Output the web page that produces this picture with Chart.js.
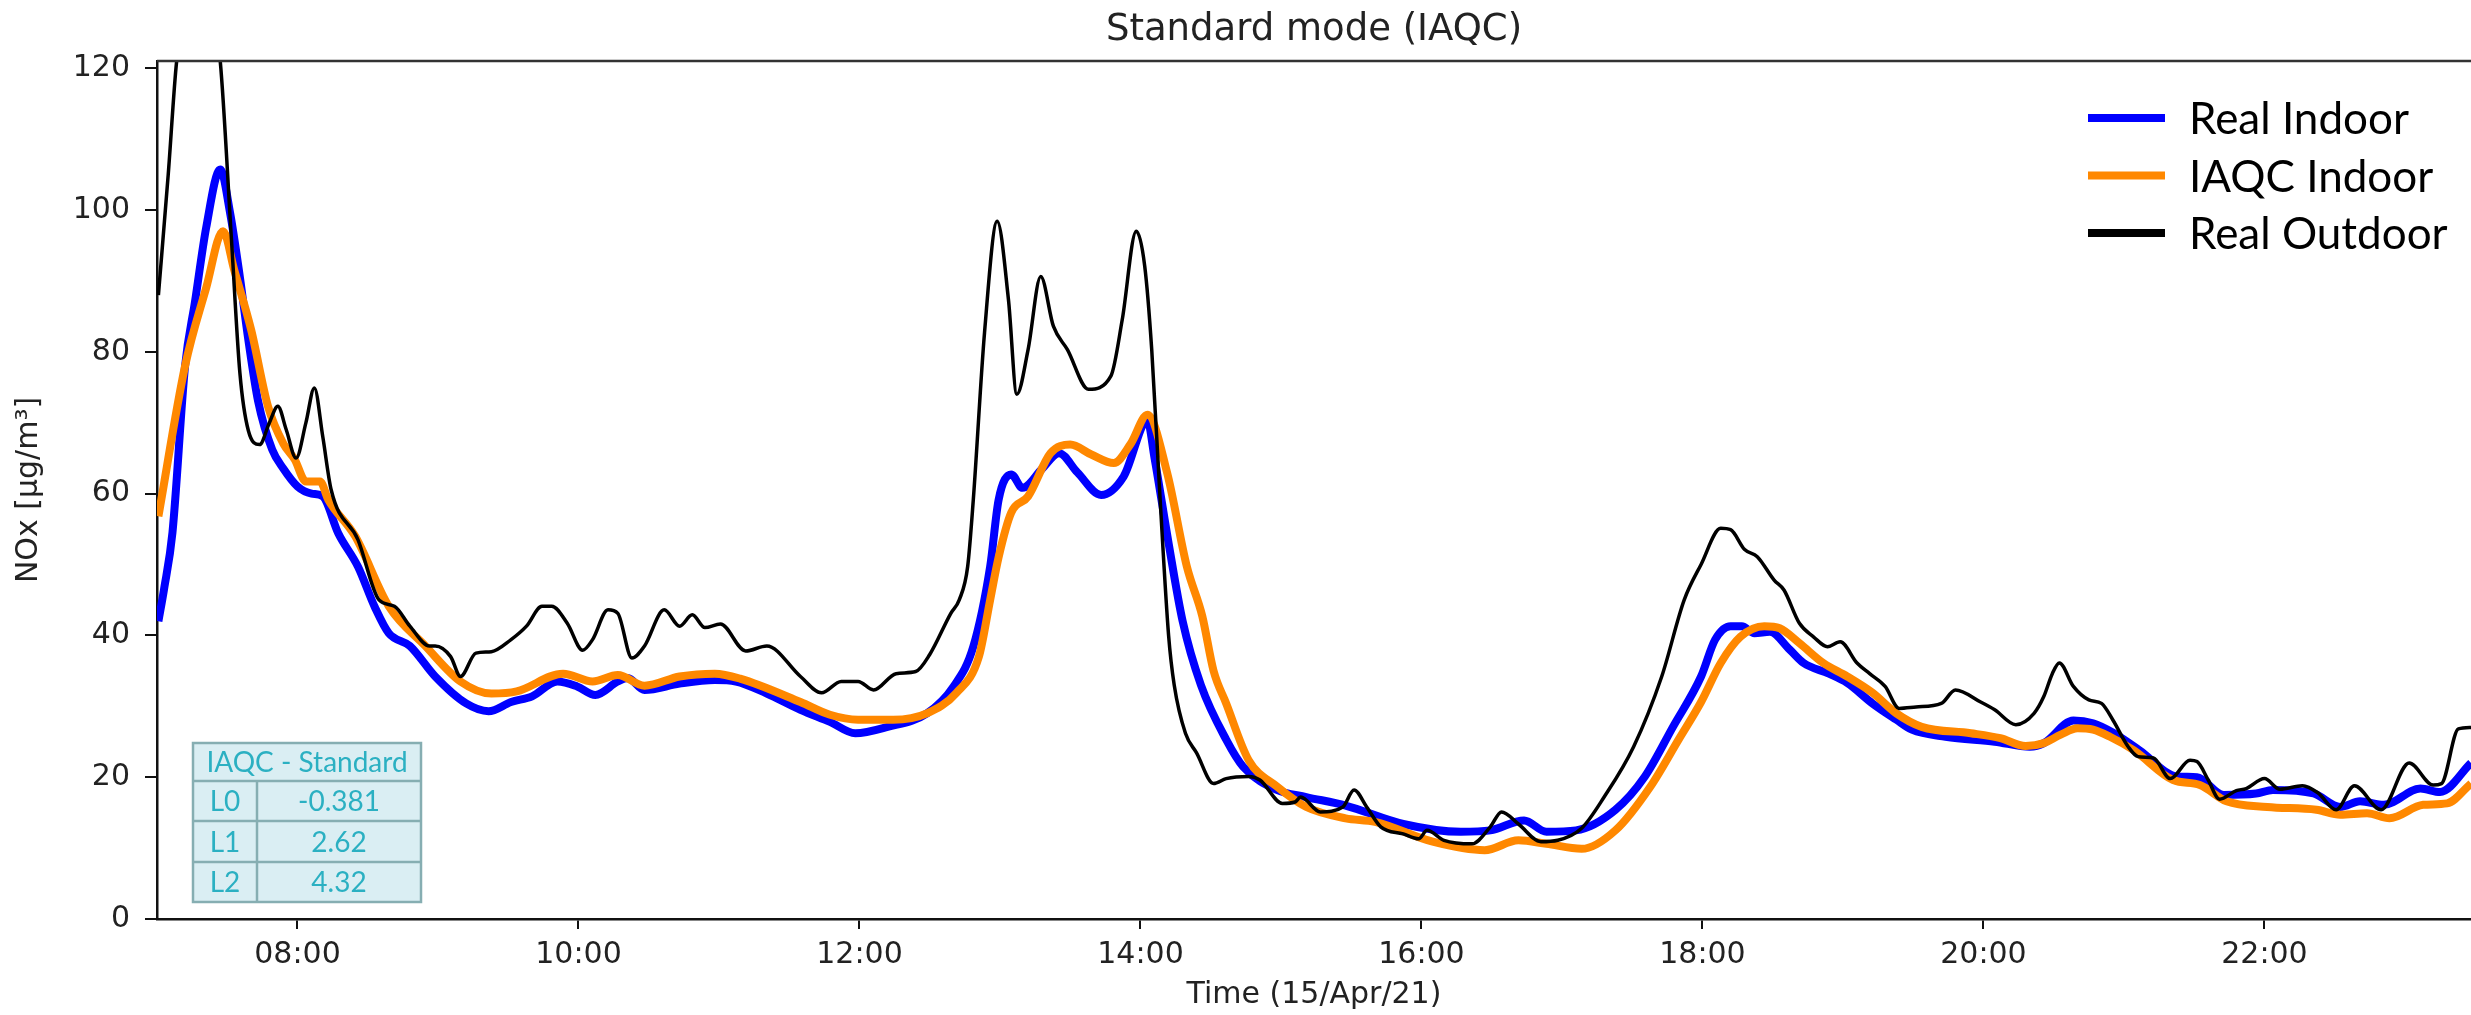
<!DOCTYPE html>
<html lang="en">
<head>
<meta charset="UTF-8">
<title>Standard mode (IAQC)</title>
<style>
  html, body { margin: 0; padding: 0; background: #fff; overflow: hidden; }
  #wrap { width: 2471px; height: 1015px; }
</style>
</head>
<body>
<div id="wrap"><canvas id="chart"></canvas></div>

<script src="https://cdn.jsdelivr.net/npm/chart.js"></script>
<script>
// [hour of day, NOx µg/m³]
const realIndoor = [
  [7.01, 42.0], [7.05, 46.5], [7.11, 54.5], [7.2, 78.0], [7.27, 87.0], [7.35, 97.5], [7.45, 105.7],
  [7.52, 99.6], [7.59, 90.5], [7.65, 81.7], [7.72, 73.0], [7.82, 66.2], [7.9, 63.5], [8.0, 61.0],
  [8.1, 60.0], [8.18, 59.6], [8.29, 54.4], [8.43, 49.7], [8.55, 44.0], [8.65, 40.3], [8.8, 38.5],
  [8.98, 34.2], [9.2, 30.4], [9.36, 29.3], [9.52, 30.6], [9.67, 31.4], [9.85, 33.5], [9.99, 32.8],
  [10.12, 31.6], [10.28, 33.5], [10.35, 34.0], [10.47, 32.3], [10.72, 33.2], [10.97, 33.7],
  [11.12, 33.5], [11.34, 31.8], [11.58, 29.5], [11.79, 27.8], [11.97, 26.2], [12.2, 27.1],
  [12.48, 29.0], [12.67, 32.8], [12.81, 38.4], [12.93, 49.7], [12.99, 59.1], [13.08, 62.7],
  [13.16, 60.8], [13.3, 63.5], [13.42, 65.7], [13.55, 63.0], [13.72, 59.8], [13.88, 62.4],
  [14.05, 70.2], [14.1, 65.0], [14.2, 53.0], [14.3, 42.0], [14.43, 33.0], [14.61, 25.3],
  [14.73, 21.5], [14.97, 18.2], [15.18, 17.2], [15.46, 16.0], [15.87, 13.4], [16.28, 12.3],
  [16.49, 12.5], [16.73, 13.9], [16.89, 12.3], [17.1, 12.5], [17.38, 15.4], [17.59, 20.1],
  [17.79, 27.1], [17.99, 34.2], [18.09, 39.4], [18.2, 41.3], [18.28, 41.3], [18.37, 40.3],
  [18.48, 40.5], [18.62, 38.0], [18.72, 36.1], [18.9, 34.6], [19.03, 33.3], [19.21, 30.4],
  [19.38, 28.1], [19.49, 26.7], [19.73, 25.7], [20.08, 25.0], [20.33, 24.3], [20.43, 24.8],
  [20.64, 28.0], [20.78, 27.6], [20.92, 26.3], [21.11, 23.8], [21.38, 20.1], [21.52, 20.0],
  [21.71, 17.5], [21.94, 17.7], [22.06, 18.2], [22.35, 17.7], [22.54, 15.8], [22.68, 16.6],
  [22.85, 16.1], [23.11, 18.4], [23.25, 17.9], [23.47, 22.0]
];

const iaqcIndoor = [
  [7.01, 56.8], [7.2, 78.0], [7.35, 89.0], [7.47, 97.0], [7.55, 91.5], [7.67, 83.1], [7.79, 72.3],
  [7.9, 67.0], [7.98, 64.8], [8.06, 61.7], [8.16, 61.7], [8.22, 59.1], [8.41, 54.0], [8.65, 44.1],
  [8.91, 38.5], [9.16, 33.5], [9.38, 31.8], [9.56, 32.1], [9.89, 34.6], [10.1, 33.5], [10.28, 34.4],
  [10.47, 32.9], [10.72, 34.2], [10.97, 34.6], [11.15, 33.9], [11.58, 30.6], [11.79, 28.8],
  [11.99, 28.1], [12.24, 28.1], [12.48, 29.0], [12.69, 31.9], [12.85, 37.0], [12.93, 45.0],
  [12.99, 51.0], [13.08, 57.3], [13.2, 59.6], [13.36, 65.7], [13.5, 66.9], [13.65, 65.5],
  [13.81, 64.3], [13.93, 67.0], [14.05, 71.1], [14.19, 62.9], [14.33, 49.7], [14.44, 42.7],
  [14.52, 35.0], [14.61, 30.4], [14.77, 22.4], [14.97, 18.7], [15.18, 15.8], [15.46, 14.2],
  [15.67, 13.7], [16.08, 10.9], [16.45, 9.7], [16.69, 11.1], [16.89, 10.6], [17.14, 9.9],
  [17.38, 12.5], [17.63, 18.7], [17.83, 25.3], [17.99, 30.6], [18.13, 36.1], [18.27, 39.8],
  [18.44, 41.3], [18.55, 41.0], [18.69, 38.9], [18.86, 36.1], [19.03, 34.2], [19.21, 31.9],
  [19.38, 29.0], [19.56, 27.1], [19.91, 26.2], [20.12, 25.5], [20.3, 24.4], [20.43, 24.8],
  [20.55, 26.0], [20.67, 26.9], [20.78, 26.7], [20.9, 25.7], [21.07, 23.8], [21.35, 19.6],
  [21.54, 18.9], [21.73, 16.6], [22.02, 15.8], [22.37, 15.4], [22.54, 14.7], [22.73, 14.9],
  [22.89, 14.2], [23.13, 16.1], [23.3, 16.3], [23.47, 19.1]
];

const realOutdoor = [
  [7.01, 88.0], [7.08, 105.0], [7.14, 121.0], [7.3, 138.0], [7.45, 121.0], [7.53, 95.8],
  [7.59, 77.0], [7.65, 68.9], [7.73, 66.9], [7.8, 70.0], [7.86, 72.3], [7.92, 69.0], [7.99, 65.0],
  [8.06, 70.0], [8.12, 74.9], [8.18, 68.0], [8.24, 60.5], [8.43, 53.5], [8.58, 45.0], [8.69, 44.1],
  [8.8, 41.3], [8.94, 38.5], [8.98, 38.5], [9.09, 37.0], [9.16, 34.2], [9.27, 37.5], [9.38, 37.7],
  [9.52, 39.4], [9.63, 41.3], [9.74, 44.1], [9.81, 44.1], [9.92, 41.7], [10.03, 37.9], [10.1, 39.4],
  [10.21, 43.6], [10.28, 43.1], [10.38, 36.8], [10.47, 38.5], [10.61, 43.6], [10.72, 41.3],
  [10.81, 42.9], [10.9, 41.1], [11.01, 41.6], [11.19, 37.8], [11.34, 38.5], [11.58, 34.2],
  [11.73, 31.9], [11.87, 33.5], [11.99, 33.5], [12.1, 32.3], [12.26, 34.6], [12.4, 34.9],
  [12.5, 37.3], [12.65, 43.1], [12.71, 45.0], [12.77, 49.7], [12.81, 59.1], [12.89, 82.7],
  [12.98, 98.4], [13.06, 87.4], [13.12, 74.0], [13.2, 80.3], [13.29, 90.6], [13.38, 83.6],
  [13.48, 80.3], [13.63, 74.7], [13.79, 76.6], [13.87, 84.5], [13.97, 97.0], [14.03, 92.1],
  [14.08, 80.3], [14.14, 59.1], [14.2, 40.0], [14.24, 33.0], [14.32, 26.2], [14.4, 23.4],
  [14.52, 19.1], [14.61, 19.8], [14.77, 20.1], [14.85, 19.6], [15.01, 16.3], [15.1, 16.5],
  [15.14, 17.2], [15.28, 15.1], [15.44, 15.8], [15.52, 18.2], [15.61, 15.8], [15.71, 13.0],
  [15.87, 12.0], [15.98, 11.3], [16.04, 12.5], [16.16, 11.1], [16.36, 10.6], [16.49, 13.0],
  [16.57, 15.1], [16.69, 13.4], [16.85, 10.9], [16.97, 11.1], [17.14, 12.8], [17.3, 17.2],
  [17.51, 24.3], [17.71, 34.2], [17.87, 45.0], [17.99, 50.0], [18.13, 55.1], [18.2, 54.9],
  [18.3, 52.1], [18.39, 51.1], [18.51, 47.8], [18.58, 46.4], [18.69, 41.7], [18.79, 39.8],
  [18.89, 38.4], [18.98, 39.1], [19.1, 36.1], [19.19, 34.6], [19.3, 32.8], [19.4, 29.7],
  [19.52, 29.9], [19.7, 30.4], [19.8, 32.3], [19.98, 30.6], [20.08, 29.5], [20.23, 27.4],
  [20.36, 29.0], [20.43, 31.4], [20.49, 34.6], [20.54, 36.1], [20.64, 32.8], [20.75, 30.9],
  [20.84, 30.4], [20.92, 28.1], [21.03, 24.3], [21.1, 22.9], [21.21, 22.7], [21.33, 19.8],
  [21.47, 22.4], [21.52, 22.2], [21.6, 19.6], [21.68, 16.9], [21.8, 18.1], [21.87, 18.4],
  [22.0, 19.8], [22.11, 18.3], [22.27, 18.8], [22.38, 17.8], [22.51, 15.4], [22.64, 18.8],
  [22.83, 15.4], [23.03, 22.0], [23.2, 18.9], [23.26, 19.1], [23.38, 26.8], [23.47, 27.0]
];

const seriesNames = ['Real Indoor', 'IAQC Indoor', 'Real Outdoor'];
const seriesColors = ['#0000ff', '#ff8800', '#000000'];

const xTickHours = [8, 10, 12, 14, 16, 18, 20, 22];
const yTickValues = [0, 20, 40, 60, 80, 100, 120];

const tableTitle = 'IAQC - Standard';
const tableRows = [['L0', '-0.381'], ['L1', '2.62'], ['L2', '4.32']];

const mplFont = 'DejaVu Sans';
const calibriLike = 'Lato';

function toPoints(pairs) {
  return pairs.map(p => ({ x: p[0], y: p[1] }));
}

function hourLabel(h) {
  return String(h).padStart(2, '0') + ':00';
}

// top spine, legend and the small parameter table
const extras = {
  id: 'extras',
  afterDatasetsDraw(chart) {
    const ctx = chart.ctx;
    const area = chart.chartArea;
    ctx.save();

    ctx.strokeStyle = '#333';
    ctx.lineWidth = 2.5;
    ctx.beginPath();
    ctx.moveTo(area.left, area.top);
    ctx.lineTo(area.right, area.top);
    ctx.stroke();

    // legend
    ctx.font = '44px ' + calibriLike;
    ctx.textBaseline = 'middle';
    ctx.textAlign = 'left';
    chart.data.datasets.forEach((ds, i) => {
      const y = area.top + 57 + i * 57.5;
      ctx.strokeStyle = ds.borderColor;
      ctx.lineWidth = 8;
      ctx.beginPath();
      ctx.moveTo(area.right - 383, y);
      ctx.lineTo(area.right - 306, y);
      ctx.stroke();
      ctx.fillStyle = '#000';
      ctx.fillText(ds.label, area.right - 282, y + 2);
    });

    // table
    const left = area.left + 36;
    const top = area.bottom - 176;
    const colW = [64, 164];
    const rowH = [38, 40, 41, 40];
    const width = colW[0] + colW[1];
    const height = rowH.reduce((a, b) => a + b, 0);
    ctx.fillStyle = '#daeef3';
    ctx.fillRect(left, top, width, height);
    ctx.strokeStyle = '#86aeb2';
    ctx.lineWidth = 2.5;
    ctx.strokeRect(left, top, width, height);
    let y = top;
    ctx.font = '28px ' + calibriLike;
    ctx.fillStyle = '#2bb0c2';
    ctx.textAlign = 'center';
    ctx.fillText(tableTitle, left + width / 2, y + rowH[0] / 2 + 1);
    y += rowH[0];
    tableRows.forEach((row, i) => {
      ctx.beginPath();
      ctx.moveTo(left, y);
      ctx.lineTo(left + width, y);
      ctx.stroke();
      const h = rowH[i + 1];
      ctx.fillText(row[0], left + colW[0] / 2, y + h / 2 + 1);
      ctx.fillText(row[1], left + colW[0] + colW[1] / 2, y + h / 2 + 1);
      y += h;
    });
    ctx.beginPath();
    ctx.moveTo(left + colW[0], top + rowH[0]);
    ctx.lineTo(left + colW[0], top + height);
    ctx.stroke();

    ctx.restore();
  }
};

const datasets = [realIndoor, iaqcIndoor, realOutdoor].map((pairs, i) => ({
  label: seriesNames[i],
  data: toPoints(pairs),
  borderColor: seriesColors[i],
  backgroundColor: seriesColors[i],
  borderWidth: i === 2 ? 3.5 : 8,
  pointRadius: 0,
  cubicInterpolationMode: 'monotone',
  fill: false,
  clip: 0,
  order: 3 - i
}));

new Chart(document.getElementById('chart'), {
  type: 'line',
  data: { datasets: datasets },
  plugins: [extras],
  options: {
    responsive: true,
    maintainAspectRatio: false,
    animation: false,
    layout: { padding: 0 },
    plugins: {
      legend: { display: false },
      tooltip: { enabled: false },
      title: {
        display: true,
        text: 'Standard mode (IAQC)',
        fullSize: false,
        color: '#222',
        font: { family: mplFont, size: 37, weight: 'normal' },
        padding: { top: 8, bottom: 8.6 }
      }
    },
    scales: {
      x: {
        type: 'linear',
        min: 7,
        max: 23.47,
        afterBuildTicks: s => { s.ticks = xTickHours.map(v => ({ value: v })); },
        afterFit: s => { s.height = 96; },
        ticks: {
          callback: v => hourLabel(v),
          color: '#222',
          font: { family: mplFont, size: 30 },
          padding: 8,
          maxRotation: 0,
          autoSkip: false
        },
        grid: { display: true, drawOnChartArea: false, drawTicks: true, tickLength: 10, color: '#111', lineWidth: 2 },
        border: { display: true, color: '#111', width: 2.5 },
        title: {
          display: true,
          text: 'Time (15/Apr/21)',
          color: '#222',
          font: { family: mplFont, size: 30 },
          padding: { top: 0, bottom: 2 }
        }
      },
      y: {
        min: 0,
        max: 121,
        afterBuildTicks: s => { s.ticks = yTickValues.map(v => ({ value: v })); },
        afterFit: s => { s.width = 157; },
        ticks: {
          color: '#222',
          font: { family: mplFont, size: 30 },
          padding: 15
        },
        grid: { display: true, drawOnChartArea: false, drawTicks: true, tickLength: 12, color: '#111', lineWidth: 2 },
        border: { display: true, color: '#111', width: 2.5 },
        title: {
          display: true,
          text: 'NOx [µg/m³]',
          color: '#222',
          font: { family: mplFont, size: 30 },
          padding: { top: 11, bottom: 0 }
        }
      }
    }
  }
});
</script>
</body>
</html>
